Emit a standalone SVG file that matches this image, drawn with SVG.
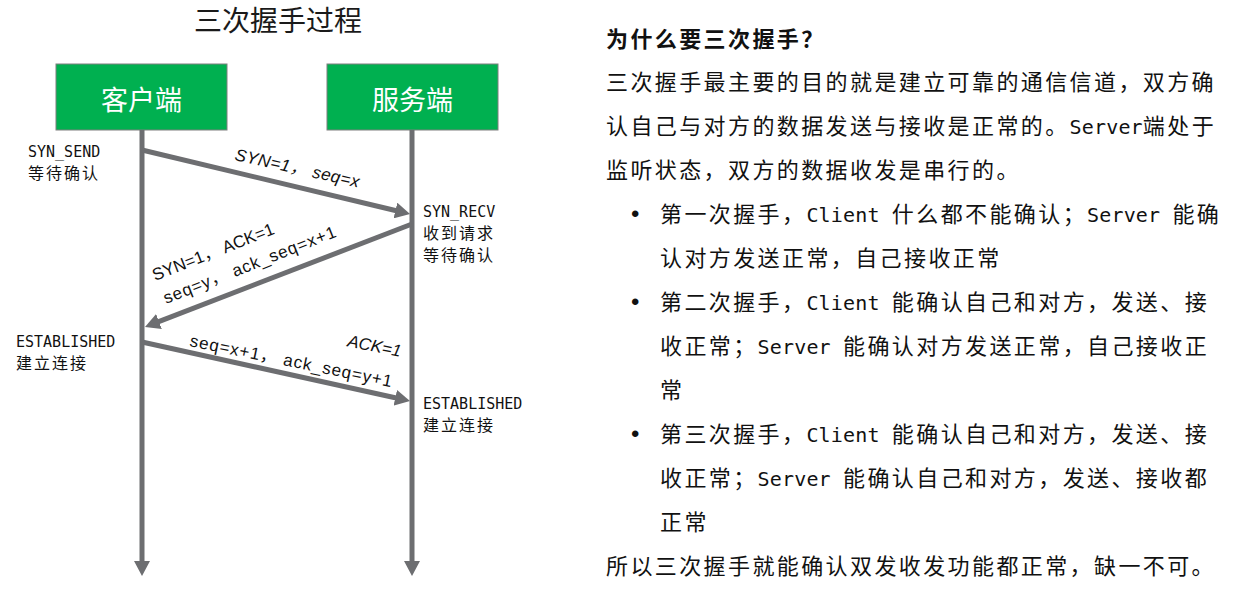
<svg xmlns="http://www.w3.org/2000/svg" width="1252" height="600" viewBox="0 0 1252 600">
<style>
.title{font-family:"Noto Sans CJK SC","Noto Sans",sans-serif;font-size:28px;fill:#1a1a1a}
.box{fill:#00b050;stroke:#7f7f7f;stroke-width:1}
.boxt{font-family:"Noto Sans CJK SC","Noto Sans",sans-serif;font-size:27px;fill:#ffffff;text-anchor:middle}
.life{stroke:#6d6e71;stroke-width:5;fill:none}
.msg{stroke:#6d6e71;stroke-width:5;fill:none}
.st{font-family:"Noto Sans CJK SC",sans-serif;font-size:16px;letter-spacing:2px;fill:#111}
.stm{font-family:"DejaVu Sans Mono",monospace;font-size:15px;letter-spacing:0;fill:#111}
.lab{font-family:"Liberation Sans","Noto Sans CJK SC",sans-serif;font-size:17px;fill:#111}
.it{font-style:italic}
.p{font-family:"Noto Sans CJK SC",sans-serif;font-size:22px;letter-spacing:2.4px;fill:#111}
.b{font-weight:bold}
.m{font-family:"DejaVu Sans Mono",monospace;font-size:20px;letter-spacing:0.16px}
.dot{font-family:"Liberation Sans",sans-serif;font-size:24px;fill:#111}
</style>
<defs>
<marker id="ah" markerUnits="userSpaceOnUse" viewBox="0 0 15 16" markerWidth="15" markerHeight="16" refX="1" refY="8" orient="auto">
<path d="M0,0 L15,8 L0,16 z" fill="#6d6e71"/>
</marker>
</defs>
<text class="title" x="278" y="31" text-anchor="middle">三次握手过程</text>
<g id="client">
<rect class="box" x="56" y="64" width="171" height="66"/>
<text class="boxt" x="141.5" y="110">客户端</text>
</g>
<g id="server">
<rect class="box" x="327" y="64" width="171" height="66"/>
<text class="boxt" x="412.5" y="110">服务端</text>
</g>
<g id="connectors">
<line class="life" x1="142" y1="130" x2="142" y2="562" marker-end="url(#ah)"/>
<line class="life" x1="412" y1="130" x2="412" y2="562" marker-end="url(#ah)"/>
<line class="msg" x1="142" y1="150" x2="396.4" y2="210.7" marker-end="url(#ah)"/>
<line class="msg" x1="412" y1="224" x2="158.05" y2="321.9" marker-end="url(#ah)"/>
<line class="msg" x1="142" y1="342" x2="396.3" y2="398" marker-end="url(#ah)"/>
</g>
<g id="labels">
<text class="lab it" transform="translate(234,160) rotate(12.5)" textLength="127" lengthAdjust="spacing">SYN=1， seq=x</text>
<text class="lab" transform="translate(155,281) rotate(-21.5)">SYN=1， ACK=1</text>
<text class="lab" transform="translate(166,304) rotate(-21.5)" textLength="184" lengthAdjust="spacing">seq=y， ack_seq=x+1</text>
<text class="lab" transform="translate(189,346) rotate(11.5)" textLength="206" lengthAdjust="spacing">seq=x+1， ack_seq=y+1</text>
<text class="lab it" transform="translate(400,357) rotate(11.5)" text-anchor="end">ACK=1</text>
</g>
<g id="states">
<text class="stm" x="28" y="157">SYN_SEND</text>
<text class="st" x="28" y="179">等待确认</text>
<text class="stm" x="423" y="217">SYN_RECV</text>
<text class="st" x="423" y="239">收到请求</text>
<text class="st" x="423" y="261">等待确认</text>
<text class="stm" x="16" y="347">ESTABLISHED</text>
<text class="st" x="16" y="369">建立连接</text>
<text class="stm" x="423" y="409">ESTABLISHED</text>
<text class="st" x="423" y="431">建立连接</text>
</g>
<g id="explanation">
<text class="p b" x="606" y="47">为什么要三次握手？</text>
<text class="p" x="606" y="90">三次握手最主要的目的就是建立可靠的通信信道，双方确</text>
<text class="p" x="606" y="134">认自己与对方的数据发送与接收是正常的。<tspan class="m">Server</tspan>端处于</text>
<text class="p" x="606" y="178">监听状态，双方的数据收发是串行的。</text>
<text class="dot" x="631" y="222">•</text>
<text class="p" x="660" y="222">第一次握手，<tspan class="m">Client </tspan>什么都不能确认；<tspan class="m">Server </tspan>能确</text>
<text class="p" x="660" y="266">认对方发送正常，自己接收正常</text>
<text class="dot" x="631" y="310">•</text>
<text class="p" x="660" y="310">第二次握手，<tspan class="m">Client </tspan>能确认自己和对方，发送、接</text>
<text class="p" x="660" y="354">收正常；<tspan class="m">Server </tspan>能确认对方发送正常，自己接收正</text>
<text class="p" x="660" y="398">常</text>
<text class="dot" x="631" y="442">•</text>
<text class="p" x="660" y="442">第三次握手，<tspan class="m">Client </tspan>能确认自己和对方，发送、接</text>
<text class="p" x="660" y="486">收正常；<tspan class="m">Server </tspan>能确认自己和对方，发送、接收都</text>
<text class="p" x="660" y="530">正常</text>
<text class="p" x="606" y="574">所以三次握手就能确认双发收发功能都正常，缺一不可。</text>
</g>
</svg>
